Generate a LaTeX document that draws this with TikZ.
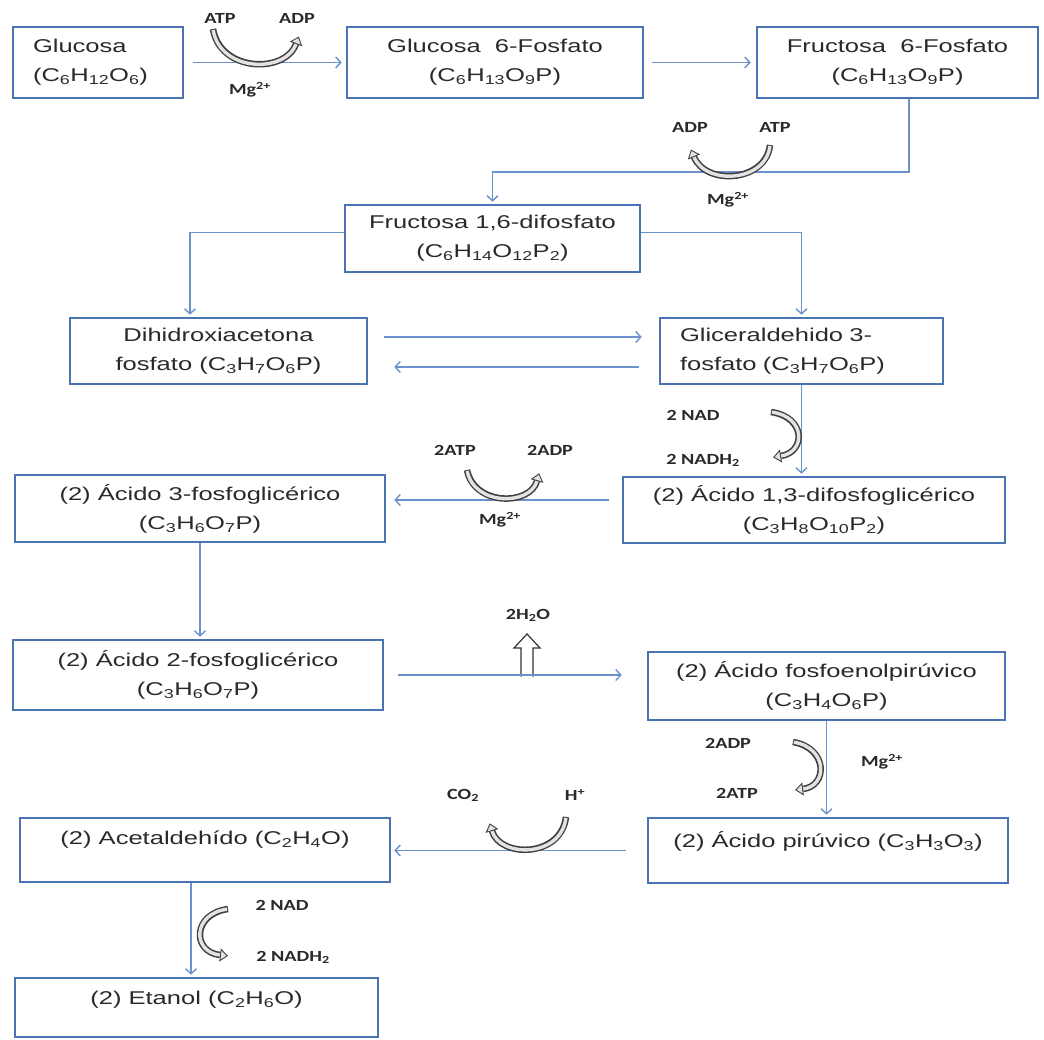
\documentclass[tikz,border=0pt]{standalone}
\usepackage{fontspec}
\setmainfont{Liberation Sans}[FakeStretch=1.38]
\newfontfamily\lblfont{Carlito}[FakeStretch=1.3]
\usetikzlibrary{arrows.meta,calc}
\definecolor{boxblue}{HTML}{4A74B4}
\definecolor{lineblue}{HTML}{6C92CC}
\definecolor{txt}{HTML}{2A2A2A}
\newcommand\sbs[1]{\textsubscript{#1}}
\newcommand\sps[1]{\textsuperscript{#1}}
\newcommand\bandarrow[5]{%
  \draw[band out] #1 .. controls #2 and #3 .. #4;
  \draw[band in] #1 .. controls #2 and #3 .. #4;
  \draw[band tip] #4 -- #5;
}
\begin{document}
\begin{tikzpicture}[x=1pt,y=-1pt,
  box/.style={draw=boxblue, line width=2.6pt, inner sep=0pt, text=txt,
    font=\fontsize{18.5}{29}\selectfont, align=center},
  conn/.style={draw=lineblue, line width=1.4pt, -{Straight Barb[length=5pt,width=11pt]}},
  lbl/.style={text=txt, font=\lblfont\bfseries\fontsize{15.5}{18}\selectfont, inner sep=0pt},
  band out/.style={draw=black!75, line width=6.5pt},
  band in/.style={draw=gray!22, line width=3.4pt, shorten <=1pt},
  band tip/.style={draw=black!75, line width=0.9pt, -{Triangle[length=8pt,width=13pt,fill=gray!22]}}
]
\fill[white] (0,0) rectangle (1044,1040);
\useasboundingbox (0,0) rectangle (1044,1040);

% boxes
\node[box, minimum width=170pt, minimum height=71pt, align=left, text width=130pt] (glu) at (98,62.5)
  {Glucosa\\(C\sbs{6}H\sbs{12}O\sbs{6})};
\node[box, minimum width=296pt, minimum height=71pt] (g6p) at (495,62.5)
  {Glucosa~ 6-Fosfato\\(C\sbs{6}H\sbs{13}O\sbs{9}P)};
\node[box, minimum width=281pt, minimum height=71pt] (f6p) at (897.5,62.5)
  {Fructosa~ 6-Fosfato\\(C\sbs{6}H\sbs{13}O\sbs{9}P)};
\node[box, minimum width=295pt, minimum height=67pt] (f16) at (492.5,238.5)
  {Fructosa 1,6-difosfato\\(C\sbs{6}H\sbs{14}O\sbs{12}P\sbs{2})};
\node[box, minimum width=297pt, minimum height=66pt] (dha) at (218.5,351)
  {Dihidroxiacetona\\fosfato (C\sbs{3}H\sbs{7}O\sbs{6}P)};
\node[box, minimum width=283pt, minimum height=66pt, align=left, text width=243pt] (gap) at (801.5,351)
  {Gliceraldehido 3-\\fosfato (C\sbs{3}H\sbs{7}O\sbs{6}P)};
\node[box, minimum width=382pt, minimum height=66pt] (a13) at (814,510)
  {(2) Ácido 1,3-difosfoglicérico\\(C\sbs{3}H\sbs{8}O\sbs{10}P\sbs{2})};
\node[box, minimum width=370pt, minimum height=67pt] (a3) at (200,508.5)
  {(2) Ácido 3-fosfoglicérico\\(C\sbs{3}H\sbs{6}O\sbs{7}P)};
\node[box, minimum width=370pt, minimum height=70pt] (a2) at (198,675)
  {(2) Ácido 2-fosfoglicérico\\(C\sbs{3}H\sbs{6}O\sbs{7}P)};
\node[box, minimum width=357pt, minimum height=68pt] (pep) at (826.5,686)
  {(2) Ácido fosfoenolpirúvico\\(C\sbs{3}H\sbs{4}O\sbs{6}P)};
\node[box, minimum width=360pt, minimum height=65pt] (pyr) at (828,850.5)
  {(2) Ácido pirúvico (C\sbs{3}H\sbs{3}O\sbs{3})\\[-15pt]\strut};
\node[box, minimum width=370pt, minimum height=64pt] (ace) at (205,850)
  {(2) Acetaldehído (C\sbs{2}H\sbs{4}O)\\[-13pt]\strut};
\node[box, minimum width=363pt, minimum height=59pt] (eta) at (196.5,1007.5)
  {(2) Etanol (C\sbs{2}H\sbs{6}O)\\[-19pt]\strut};

% labels
\node[lbl] (atp1) at (220,18) {ATP};
\node[lbl] (adp1) at (297,18) {ADP};
\node[lbl] (mg1) at (250,90) {Mg\sps{2+}};
\node[lbl] (adp2) at (690,127) {ADP};
\node[lbl] (atp2) at (775,127) {ATP};
\node[lbl] (mg2) at (728,200) {Mg\sps{2+}};
\node[lbl] (nad1) at (693,415) {2 NAD};
\node[lbl] (nadh1) at (703,460) {2 NADH\sbs{2}};
\node[lbl] (atp3) at (455,450) {2ATP};
\node[lbl] (adp3) at (550,450) {2ADP};
\node[lbl] (mg3) at (500,520) {Mg\sps{2+}};
\node[lbl] (h2o) at (528,615) {2H\sbs{2}O};
\node[lbl] (adp4) at (728,743) {2ADP};
\node[lbl] (atp4) at (737,793) {2ATP};
\node[lbl] (mg4) at (882,762) {Mg\sps{2+}};
\node[lbl] (co2) at (463,795) {CO\sbs{2}};
\node[lbl] (hplus) at (575,795) {H\sps{+}};
\node[lbl] (nad2) at (282,905) {2 NAD};
\node[lbl] (nadh2) at (293,957) {2 NADH\sbs{2}};

% water release arrow (hollow)
\draw[black!80, line width=1.2pt, fill=white]
  (521,676.5) -- (521,648) -- (514,648) -- (527,634) -- (540,648) -- (533,648) -- (533,676.5);

% connectors
\draw[conn, shorten <=9pt, shorten >=4pt] (glu.east) -- (g6p.west);
\draw[conn, shorten <=8pt, shorten >=5pt] (g6p.east) -- (f6p.west);
\coordinate (k1) at ($(f6p.south)+(11.5,0)$);
\draw[conn, shorten >=2pt] (k1) -- (k1 |- 0,172) -| (f16.north);
\draw[conn, shorten >=2pt] ([yshift=6pt]f16.west) -| ([xshift=-28.5pt]dha.north);
\draw[conn, shorten >=2pt] ([yshift=6pt]f16.east) -| (gap.north);
\draw[conn, shorten <=16pt, shorten >=17pt] ([yshift=14pt]dha.east) -- ([yshift=14pt]gap.west);
\draw[conn, shorten <=20pt, shorten >=26pt] ([yshift=-16pt]gap.west) -- ([yshift=-16pt]dha.east);
\draw[conn, shorten >=2pt] (gap.south) -- (gap.south |- a13.north);
\draw[conn, shorten <=13pt, shorten >=8pt] ([yshift=10pt]a13.west) -- ([yshift=10pt]a13.west -| a3.east);
\draw[conn, shorten >=2pt] (a3.south) -- (a3.south |- a2.north);
\draw[conn, shorten <=14pt, shorten >=25pt] (a2.east) -- (a2.east -| pep.west);
\draw[conn, shorten >=2pt] (pep.south) -- (pep.south |- pyr.north);
\draw[conn, shorten <=21pt, shorten >=3pt] (pyr.west) -- (pyr.west -| ace.east);
\draw[conn, shorten >=2pt] ([xshift=-14pt]ace.south) -- ([xshift=-14pt]ace.south |- eta.north);

% curved hollow arrows
\bandarrow{(213,29)}{(220,72)}{(285,74)}{(296,44)}{(298.8,36.5)}
\bandarrow{(770,145)}{(766,182)}{(706,186)}{(694,157)}{(690.9,149.6)}
\bandarrow{(771,412)}{(806,417)}{(806,452)}{(781,456)}{(773.1,457.3)}
\bandarrow{(467,470)}{(474,506)}{(530,506)}{(537,481)}{(539.2,473.3)}
\bandarrow{(793,742)}{(828,748)}{(828,786)}{(803,789)}{(795.1,790)}
\bandarrow{(566,817)}{(561,858)}{(500,858)}{(492,831)}{(489.7,823.3)}
\bandarrow{(228,909)}{(192,914)}{(192,952)}{(220,955)}{(228,955.9)}
\end{tikzpicture}
\end{document}
